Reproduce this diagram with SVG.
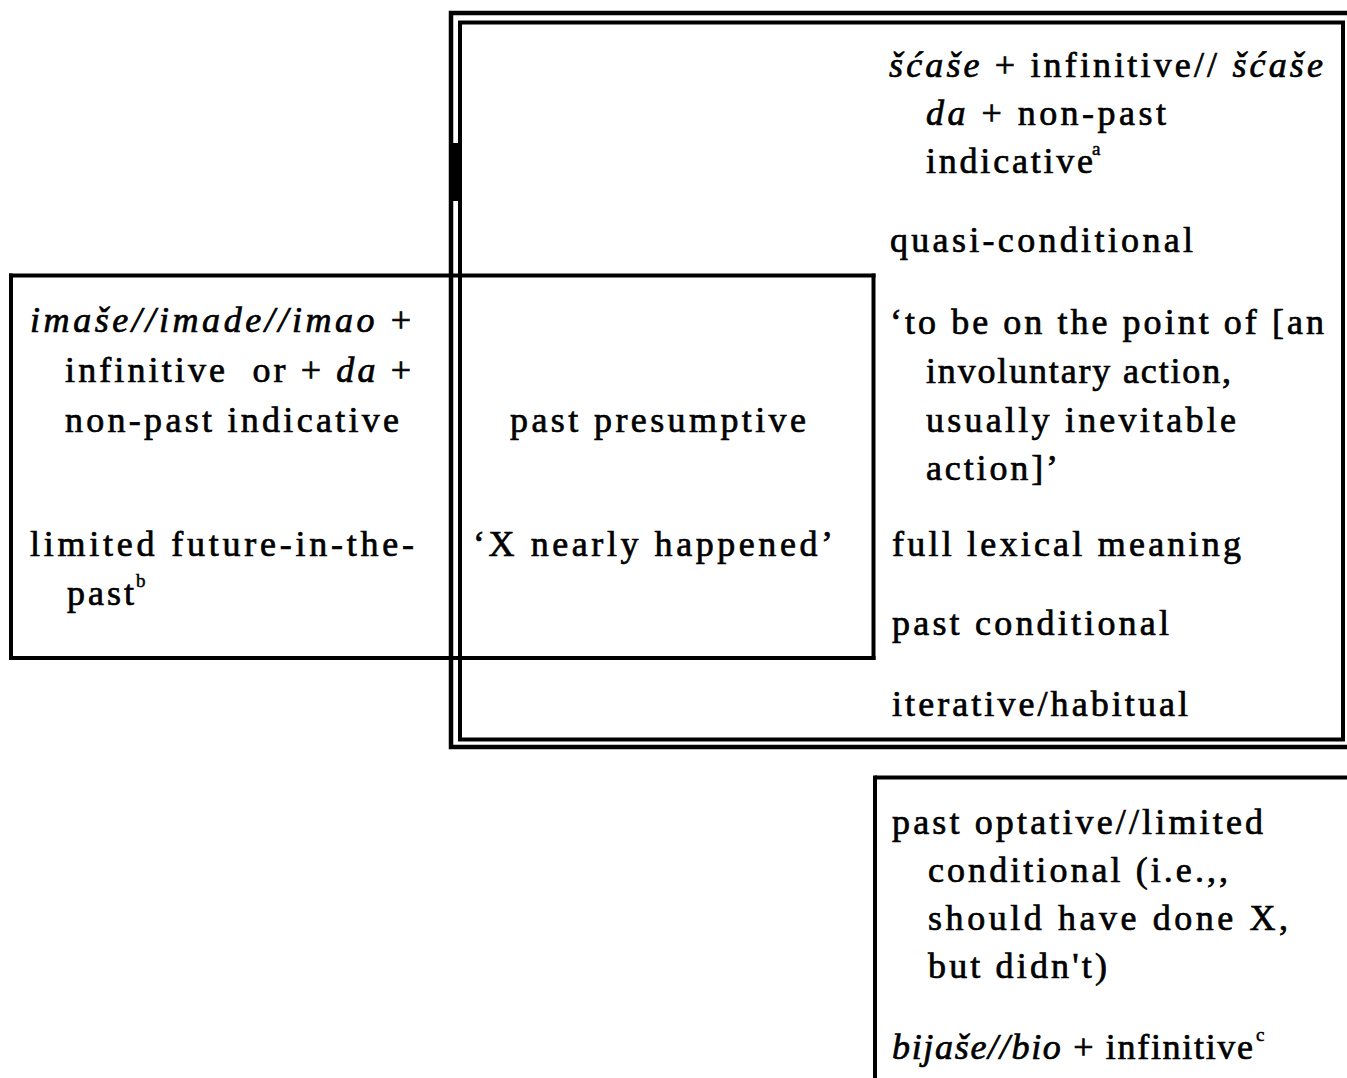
<svg xmlns="http://www.w3.org/2000/svg" width="1347" height="1078" viewBox="0 0 1347 1078">
  <style>
    .t { font-family: "Liberation Serif", "Times New Roman", serif; font-size: 36px; fill: #000; stroke: #000; stroke-width: 0.7px; white-space: pre; }
    .i { font-style: italic; }
    .sup { font-family: "Liberation Serif", "Times New Roman", serif; font-size: 19px; fill: #000; stroke: #000; stroke-width: 0.5px; }
    .frame { fill: none; stroke: #000; stroke-width: 4.5; }
    .line { fill: none; stroke: #000; stroke-width: 4; }
  </style>
  <rect width="1347" height="1078" fill="#fff"/>

  <!-- box outlines -->
  <g id="connectors">
    <!-- double-ruled frame around the right-hand group -->
    <rect class="frame" x="451" y="13" width="920" height="734"/>
    <rect class="line" x="460" y="22.5" width="883" height="717"/>
    <rect x="449" y="143" width="13" height="58" fill="#000"/>
    <!-- left and middle boxes share the horizontal rules -->
    <line class="line" x1="9" y1="275.5" x2="875.5" y2="275.5"/>
    <line class="line" x1="9" y1="658" x2="875.5" y2="658"/>
    <line class="line" x1="11" y1="273.5" x2="11" y2="660"/>
    <line class="line" x1="873.5" y1="273.5" x2="873.5" y2="660"/>
    <!-- lower right box, running off the page -->
    <line class="line" x1="875" y1="777.5" x2="1347" y2="777.5"/>
    <line class="line" x1="875" y1="775.5" x2="875" y2="1078"/>
  </g>

  <g id="node-left">
    <text class="t" x="30" y="332" textLength="381" lengthAdjust="spacing"><tspan class="i">imaše//imade//imao</tspan> +</text>
    <text class="t" x="65" y="382" textLength="346" lengthAdjust="spacing">infinitive  or + <tspan class="i">da</tspan> +</text>
    <text class="t" x="65" y="432" textLength="334" lengthAdjust="spacing">non-past indicative</text>
    <text class="t" x="30" y="556" textLength="384" lengthAdjust="spacing">limited future-in-the-</text>
    <text class="t" x="67" y="605" textLength="67" lengthAdjust="spacing">past</text>
    <text class="sup" x="136" y="587">b</text>
  </g>

  <g id="node-middle">
    <text class="t" x="510" y="432" textLength="296" lengthAdjust="spacing">past presumptive</text>
    <text class="t" x="473" y="556" textLength="360" lengthAdjust="spacing">‘X nearly happened’</text>
  </g>

  <g id="node-right">
    <text class="t" x="889" y="77" textLength="434" lengthAdjust="spacing"><tspan class="i">šćaše</tspan> + infinitive// <tspan class="i">šćaše</tspan></text>
    <text class="t" x="926" y="125" textLength="240" lengthAdjust="spacing"><tspan class="i">da</tspan> + non-past</text>
    <text class="t" x="926" y="173" textLength="167" lengthAdjust="spacing">indicative</text>
    <text class="sup" x="1092" y="155">a</text>
    <text class="t" x="890" y="252" textLength="303" lengthAdjust="spacing">quasi-conditional</text>
    <text class="t" x="890" y="334" textLength="434" lengthAdjust="spacing">‘to be on the point of [an</text>
    <text class="t" x="926" y="383" textLength="305" lengthAdjust="spacing">involuntary action,</text>
    <text class="t" x="926" y="432" textLength="310" lengthAdjust="spacing">usually inevitable</text>
    <text class="t" x="926" y="480" textLength="132" lengthAdjust="spacing">action]’</text>
    <text class="t" x="892" y="556" textLength="349" lengthAdjust="spacing">full lexical meaning</text>
    <text class="t" x="892" y="635" textLength="277" lengthAdjust="spacing">past conditional</text>
    <text class="t" x="892" y="716" textLength="296" lengthAdjust="spacing">iterative/habitual</text>
  </g>

  <g id="node-bottom">
    <text class="t" x="892" y="834" textLength="371" lengthAdjust="spacing">past optative//limited</text>
    <text class="t" x="928" y="882" textLength="300" lengthAdjust="spacing">conditional (i.e.,,</text>
    <text class="t" x="928" y="930" textLength="360" lengthAdjust="spacing">should have done X,</text>
    <text class="t" x="928" y="978" textLength="179" lengthAdjust="spacing">but didn't)</text>
    <text class="t" x="892" y="1059" textLength="361" lengthAdjust="spacing"><tspan class="i">bijaše//bio</tspan> + infinitive</text>
    <text class="sup" x="1256" y="1041">c</text>
  </g>
</svg>
